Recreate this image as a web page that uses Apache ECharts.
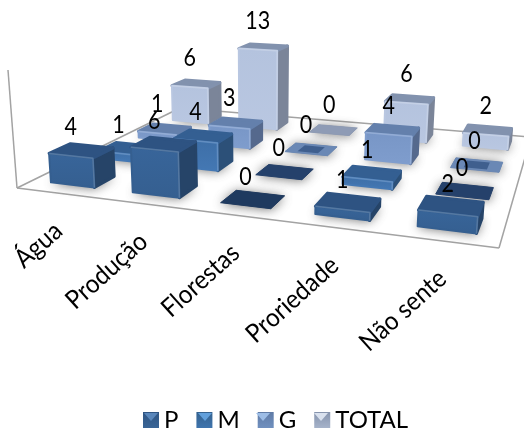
<!DOCTYPE html>
<html>
<head>
<meta charset="utf-8">
<style>html,body{margin:0;padding:0;background:#fff}#chart{width:524px;height:431px}</style>
<script src="https://cdn.jsdelivr.net/npm/echarts@6/dist/echarts.min.js"></script>
</head>
<body>
<div id="chart"></div>
<script>
// Values per category and size class
const categories = ['Água', 'Produção', 'Florestas', 'Proriedade', 'Não sente'];
const seriesNames = ['P', 'M', 'G', 'TOTAL'];
const valuesP = [4, 6, 0, 1, 2];
const valuesM = [1, 4, 0, 1, 0];
const valuesG = [1, 3, 0, 4, 0];
const valuesTotal = [6, 13, 0, 6, 2];
const allValues = [valuesP, valuesM, valuesG, valuesTotal];

// Face colours by series: front gradient, top, side, flat (zero) fill, inner flat fill, legend tones
const palette = [
  {front: ['#38659a', '#355f90'], top: '#2e5382', side: '#264468', flat: '#1f3a5f', inner: null, legend: ['#2f5583', '#3a6596'], tip: '#5a87bb'},
  {front: ['#3d6ea6', '#4478b4'], top: '#345f92', side: '#2c5078', flat: '#25416b', inner: null, legend: ['#34628f', '#3f74ad'], tip: '#62a0dc'},
  {front: ['#7896c6', '#7f9dcd'], top: '#6480ac', side: '#55698d', flat: '#6a88b5', inner: '#3f5f8e', legend: ['#5f7ba6', '#7090bf'], tip: '#9dbde6'},
  {front: ['#b4c3de', '#b9c7e1'], top: '#8292ae', side: '#7b8599', flat: '#8e9bb5', inner: null, legend: ['#8593ad', '#a6b3ca'], tip: '#d9e1ee'}
];

const W = 524, H = 431, MAX_VALUE = 14;
const FONT = 'Lato, "Open Sans", sans-serif';

// Floor plane: front-left, front-right, back-right, back-left
const floor = [[17, 188], [499, 248], [531, 137], [180, 108]];
// Vanishing point of the vertical direction and the per-unit height factor
const vertical = {x: 260, y: 3380, k: -0.00228};
const barWidth = 0.54, barDepth = 0.42;
// Left edges of the legend markers
const legendMarkerLeft = [143, 197, 255, 313];
const LEGEND_TOP = 412, MARKER = 16;

function makeHomography(q) {
  const [x0, y0] = q[0], [x1, y1] = q[1], [x2, y2] = q[2], [x3, y3] = q[3];
  const sx = x0 - x1 + x2 - x3, sy = y0 - y1 + y2 - y3;
  const dx1 = x1 - x2, dx2 = x3 - x2, dy1 = y1 - y2, dy2 = y3 - y2;
  const den = dx1 * dy2 - dx2 * dy1;
  const g = (sx * dy2 - dx2 * sy) / den, h = (dx1 * sy - sx * dy1) / den;
  return {a: x1 - x0 + g * x1, b: x3 - x0 + h * x3, c: x0,
          d: y1 - y0 + g * y1, e: y3 - y0 + h * y3, f: y0, g, h};
}
const hom = makeHomography(floor);

// u: 0..1 along categories, v: 0..1 into depth, t: value above the floor
function project(u, v, t) {
  const m = t * vertical.k;
  const w = hom.g * u + hom.h * v + 1 + m;
  return [(hom.a * u + hom.b * v + hom.c + m * vertical.x) / w,
          (hom.d * u + hom.e * v + hom.f + m * vertical.y) / w];
}

// Hidden cartesian axes supply the category position and the value scale
function scaled(api) {
  const p = api.coord([api.value(0), api.value(1)]);
  return {u: p[0] / W, t: (H - p[1]) / H * MAX_VALUE, value: api.value(1), cat: api.value(0)};
}

function poly(points, style) {
  return {type: 'polygon', shape: {points}, style, silent: true};
}

function renderBar(row) {
  const col = palette[row];
  return function (params, api) {
    const {u, t} = scaled(api);
    const hw = barWidth / 5 / 2, vc = (row + 0.5) / 4, hd = barDepth / 4 / 2;
    const u0 = u - hw, u1 = u + hw, v0 = vc - hd, v1 = vc + hd;
    const base = [project(u0, v0, 0), project(u1, v0, 0), project(u1, v1, 0), project(u0, v1, 0)];
    const children = [];
    children.push(poly(base, {fill: 'rgba(120,120,120,0.9)',
      shadowBlur: 11, shadowColor: 'rgba(70,70,70,0.85)', shadowOffsetY: 1}));
    if (t === 0) {
      children.push(poly(base, {fill: col.flat, stroke: col.flat, lineWidth: 1, lineJoin: 'round'}));
      if (col.inner) {
        const a = 0.028, b = 0.016;
        children.push(poly([project(u0 + a, v0 + b, 0), project(u1 - a, v0 + b, 0), project(u1 - a, v1 - b, 0), project(u0 + a, v1 - b, 0)],
          {fill: col.inner}));
      }
      return {type: 'group', children};
    }
    const ftl = project(u0, v0, t), ftr = project(u1, v0, t), btr = project(u1, v1, t), btl = project(u0, v1, t);
    const fbl = base[0], fbr = base[1], bbr = base[2];
    const edge = {lineWidth: 3, lineJoin: 'round'};
    children.push(poly([fbr, bbr, btr, ftr], Object.assign({fill: col.side, stroke: col.side}, edge)));
    children.push(poly([ftl, ftr, btr, btl], Object.assign({fill: col.top, stroke: col.top}, edge)));
    children.push(poly([fbl, fbr, ftr, ftl], Object.assign({
      fill: {type: 'linear', x: 0, y: 0, x2: 0, y2: 1, colorStops: [{offset: 0, color: col.front[0]}, {offset: 1, color: col.front[1]}]},
      stroke: col.front[1]}, {lineWidth: 2, lineJoin: 'round'})));
    // soft bevel highlight along the top and right front edges
    children.push({type: 'polyline', shape: {points: [ftl, ftr, fbr]}, silent: true,
      style: {stroke: 'rgba(255,255,255,0.16)', lineWidth: 1.5, fill: null, lineJoin: 'round'}});
    return {type: 'group', children};
  };
}

// Floor outline and the upright wall edge
function renderFloor() {
  const line = (a, b) => ({type: 'line', silent: true,
    shape: {x1: a[0], y1: a[1], x2: b[0], y2: b[1]}, style: {stroke: '#a3a3a3', lineWidth: 1.5}});
  const top = project(0, 0, 0);
  return {type: 'group', children: [
    line(floor[0], floor[1]), line(floor[1], floor[2]), line(floor[2], floor[3]), line(floor[3], floor[0]),
    line(top, [8, 70])
  ]};
}

// Value labels above each bar and slanted category names under the front edge
function renderLabel(row) {
  return function (params, api) {
    const {u, t, value} = scaled(api);
    const p = project(u, (row + 0.5) / 4 - barDepth / 8, t);
    return {type: 'text', x: p[0], y: p[1] - 29, scaleX: 0.86, silent: true,
      style: {text: String(value), font: '25px ' + FONT, fill: '#000', align: 'center', verticalAlign: 'middle'}};
  };
}

function renderCategory(params, api) {
  const {u} = scaled(api);
  const p = project(u, 0, 0);
  return {type: 'text', x: p[0] + 1, y: p[1] + 34, rotation: 42 * Math.PI / 180, scaleX: 0.92, silent: true,
    style: {text: categories[api.value(0)], font: '26px ' + FONT, fill: '#000', align: 'right', verticalAlign: 'middle'}};
}

const toData = vals => vals.map((v, i) => [i, v]);
const base = {type: 'custom', coordinateSystem: 'cartesian2d', clip: false, animation: false, encode: {x: 0, y: 1}};

const barSeries = seriesNames.map((name, row) => Object.assign({}, base, {
  name, z: 10 + (3 - row), data: toData(allValues[row]), renderItem: renderBar(row),
  itemStyle: {color: palette[row].front[1]}
}));
const labelSeries = seriesNames.map((name, row) => Object.assign({}, base, {
  name: 'rótulos ' + name, z: 30, data: toData(allValues[row]), renderItem: renderLabel(row)
}));

const chart = echarts.init(document.getElementById('chart'), null, {renderer: 'canvas'});
chart.setOption({
  animation: false,
  backgroundColor: '#fff',
  grid: {left: 0, top: 0, width: W, height: H, containLabel: false},
  xAxis: {type: 'category', data: categories, show: false},
  yAxis: {type: 'value', min: 0, max: MAX_VALUE, show: false},
  legend: {
    data: seriesNames.map((name, i) => ({name, icon: 'rect', itemStyle: {
      color: {type: 'linear', x: 0, y: 0, x2: 0, y2: 1, colorStops: [{offset: 0, color: palette[i].legend[0]}, {offset: 1, color: palette[i].legend[1]}]}
    }})),
    left: 143, top: 408, padding: 0, itemWidth: MARKER, itemHeight: MARKER, itemGap: 18, selectedMode: false,
    textStyle: {fontFamily: FONT, fontSize: 24, color: '#000'}
  },
  // Lighter wedge on each legend marker, echoing the bevelled bars
  graphic: legendMarkerLeft.map((x, i) => ({
    type: 'polygon', silent: true, z: 100,
    shape: {points: [[x + 1, LEGEND_TOP + 1], [x + MARKER - 1, LEGEND_TOP + 1], [x + MARKER / 2, LEGEND_TOP + MARKER / 2 + 1]]},
    style: {fill: palette[i].tip}
  })),
  series: [
    Object.assign({}, base, {name: 'piso', z: 1, data: [[0, 0]], renderItem: renderFloor}),
    ...barSeries,
    Object.assign({}, base, {name: 'categorias', z: 30, data: toData(valuesTotal.map(() => 0)), renderItem: renderCategory}),
    ...labelSeries
  ]
});
</script>
</body>
</html>
